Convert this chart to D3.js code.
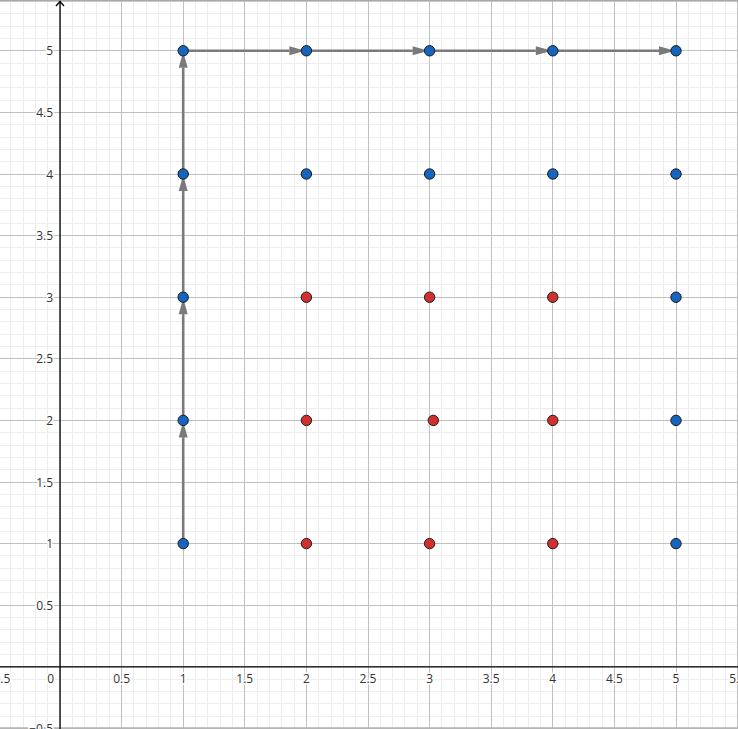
<!DOCTYPE html>
<html>
<head>
<meta charset="utf-8">
<script src="https://cdn.jsdelivr.net/npm/d3@7"></script>
<style>
  html, body { margin: 0; padding: 0; background: #fff; }
  svg { display: block; }
  text { font-family: "Open Sans", "Noto Sans", sans-serif; font-size: 12px; fill: #333; }
</style>
</head>
<body>
<svg id="chart" width="738" height="729"></svg>
<script>
// ---- data ----
const xTickValues = [-0.5, 0.5, 1, 1.5, 2, 2.5, 3, 3.5, 4, 4.5, 5, 5.5];
const yTickValues = [-0.5, 0.5, 1, 1.5, 2, 2.5, 3, 3.5, 4, 4.5, 5];
const bluePoints = [
  [1, 1], [1, 2], [1, 3], [1, 4], [1, 5],
  [2, 4], [2, 5], [3, 4], [3, 5], [4, 4], [4, 5],
  [5, 1], [5, 2], [5, 3], [5, 4], [5, 5]
];
const redPoints = [
  [2, 1], [2, 2], [2, 3],
  [3, 1], [3.03, 2], [3, 3],
  [4, 1], [4, 2], [4, 3]
];
const pathPoints = [[1, 1], [1, 2], [1, 3], [1, 4], [1, 5], [2, 5], [3, 5], [4, 5], [5, 5]];

// ---- setup ----
const W = 738, H = 729;
const unit = 123.2;
const ox = 60, oy = 666.8;
const x = d3.scaleLinear().domain([-ox / unit, (W - ox) / unit]).range([0, W]);
const y = d3.scaleLinear().domain([(oy - H) / unit, oy / unit]).range([H, 0]);

const svg = d3.select("#chart");
svg.append("rect").attr("width", W).attr("height", H).attr("fill", "#fff");

// minor grid
const minorX = d3.range(Math.ceil(x.domain()[0] * 10), Math.floor(x.domain()[1] * 10) + 1).map(v => v / 10);
const minorY = d3.range(Math.ceil(y.domain()[0] * 10), Math.floor(y.domain()[1] * 10) + 1).map(v => v / 10);
const grid = svg.append("g").attr("shape-rendering", "crispEdges");
grid.selectAll("line.mx").data(minorX).join("line")
  .attr("x1", d => x(d)).attr("x2", d => x(d)).attr("y1", 0).attr("y2", H)
  .attr("stroke", "#ededed").attr("stroke-width", 1);
grid.selectAll("line.my").data(minorY).join("line")
  .attr("y1", d => y(d)).attr("y2", d => y(d)).attr("x1", 0).attr("x2", W)
  .attr("stroke", "#ededed").attr("stroke-width", 1);
// major grid
const majorX = minorX.filter(v => Math.abs(Math.round(v * 2) - v * 2) < 1e-9);
const majorY = minorY.filter(v => Math.abs(Math.round(v * 2) - v * 2) < 1e-9);
grid.selectAll("line.Mx").data(majorX).join("line")
  .attr("x1", d => x(d)).attr("x2", d => x(d)).attr("y1", 0).attr("y2", H)
  .attr("stroke", "#c0c0c0").attr("stroke-width", 1);
grid.selectAll("line.My").data(majorY).join("line")
  .attr("y1", d => y(d)).attr("y2", d => y(d)).attr("x1", 0).attr("x2", W)
  .attr("stroke", "#c0c0c0").attr("stroke-width", 1);

// frame lines top & bottom
svg.append("line").attr("x1", 0).attr("x2", W).attr("y1", 0.5).attr("y2", 0.5)
  .attr("stroke", "#a8a8a8").attr("stroke-width", 2);
svg.append("line").attr("x1", 0).attr("x2", W).attr("y1", H - 1).attr("y2", H - 1)
  .attr("stroke", "#b0b0b0").attr("stroke-width", 1.5);

// axes
svg.append("line").attr("x1", 0).attr("x2", W).attr("y1", y(0)).attr("y2", y(0))
  .attr("stroke", "#000").attr("stroke-width", 1.3);
svg.append("line").attr("x1", x(0)).attr("x2", x(0)).attr("y1", 1).attr("y2", H)
  .attr("stroke", "#000").attr("stroke-width", 1.3);
svg.append("path")
  .attr("d", `M${x(0) - 4},${6} L${x(0)},${1.5} L${x(0) + 4},${6}`)
  .attr("fill", "none").attr("stroke", "#000").attr("stroke-width", 1.3);

// axis labels
const fmt = d => (d < 0 ? "\u2212" : "") + String(Math.abs(d));
const labels = svg.append("g");
labels.selectAll("text.xl").data(xTickValues).join("text")
  .attr("x", d => x(d)).attr("y", y(0) + 16)
  .attr("text-anchor", "middle")
  .attr("stroke", "#fff").attr("stroke-width", 3).attr("paint-order", "stroke")
  .text(fmt);
labels.append("text").attr("x", x(0) - 6).attr("y", y(0) + 16)
  .attr("text-anchor", "end")
  .attr("stroke", "#fff").attr("stroke-width", 3).attr("paint-order", "stroke")
  .text("0");
labels.selectAll("text.yl").data(yTickValues).join("text")
  .attr("x", x(0) - 7).attr("y", d => y(d) + 4.5)
  .attr("text-anchor", "end")
  .attr("stroke", "#fff").attr("stroke-width", 3).attr("paint-order", "stroke")
  .text(fmt);

// vectors
const vecs = d3.pairs(pathPoints);
const vg = svg.append("g");
const headLen = 16, headHalf = 4.5;
vecs.forEach(([a, b]) => {
  const x1 = x(a[0]), y1 = y(a[1]), x2 = x(b[0]), y2 = y(b[1]);
  const dx = x2 - x1, dy = y2 - y1, L = Math.hypot(dx, dy);
  const ux = dx / L, uy = dy / L;
  const tipX = x2 - ux * 1, tipY = y2 - uy * 1;
  const bx = tipX - ux * headLen, by = tipY - uy * headLen;
  vg.append("line").attr("x1", x1).attr("y1", y1).attr("x2", bx).attr("y2", by)
    .attr("stroke", "#7a7a7a").attr("stroke-width", 2.6);
  vg.append("path")
    .attr("d", `M${tipX},${tipY} L${bx - uy * headHalf},${by + ux * headHalf} L${bx + uy * headHalf},${by - ux * headHalf} Z`)
    .attr("fill", "#7a7a7a");
});

// points
const pg = svg.append("g");
pg.selectAll("circle.r").data(redPoints).join("circle")
  .attr("cx", d => x(d[0])).attr("cy", d => y(d[1])).attr("r", 5.2)
  .attr("fill", "#d32f2f").attr("stroke", "#1a1a1a").attr("stroke-width", 1);
pg.selectAll("circle.b").data(bluePoints).join("circle")
  .attr("cx", d => x(d[0])).attr("cy", d => y(d[1])).attr("r", 5.2)
  .attr("fill", "#1565c0").attr("stroke", "#1a1a1a").attr("stroke-width", 1);
</script>
</body>
</html>
